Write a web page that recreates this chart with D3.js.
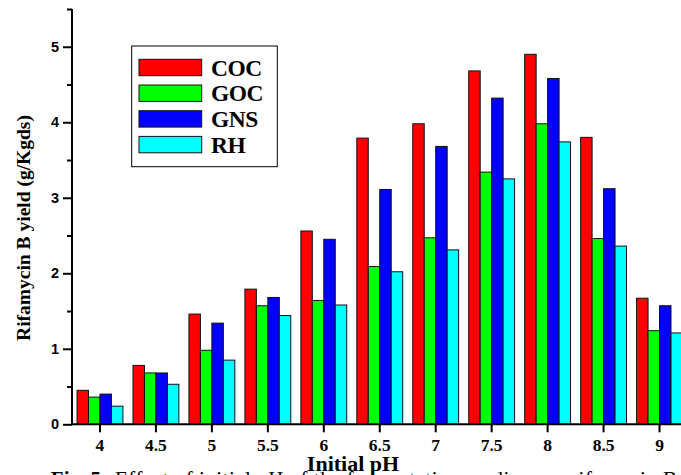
<!DOCTYPE html>
<html>
<head>
<meta charset="utf-8">
<script src="https://cdn.jsdelivr.net/npm/d3@7"></script>
<style>
  html, body { margin: 0; padding: 0; background: #fff; }
  svg { display: block; }
</style>
</head>
<body>
<svg id="chart" width="681" height="475"></svg>
<script>
// Initial pH levels (x categories)
const phLevels = ["4", "4.5", "5", "5.5", "6", "6.5", "7", "7.5", "8", "8.5", "9"];

// Substrate series
const seriesNames = ["COC", "GOC", "GNS", "RH"];
const seriesColors = ["#ff0000", "#00ff00", "#0000ff", "#00ffff"];

// Rifamycin B yield (g/Kgds) per substrate, one value per pH level
const cocYield = [0.45, 0.78, 1.46, 1.79, 2.56, 3.79, 3.98, 4.68, 4.90, 3.80, 1.67];
const gocYield = [0.36, 0.68, 0.98, 1.57, 1.64, 2.09, 2.47, 3.34, 3.98, 2.46, 1.24];
const gnsYield = [0.40, 0.68, 1.34, 1.68, 2.45, 3.11, 3.68, 4.32, 4.58, 3.12, 1.57];
const rhYield  = [0.24, 0.53, 0.85, 1.44, 1.58, 2.02, 2.31, 3.25, 3.74, 2.36, 1.21];

// Y axis ticks
const yMajorTicks = [0, 1, 2, 3, 4, 5];
const yMinorTicks = [0.5, 1.5, 2.5, 3.5, 4.5, 5.5];

const yieldsBySeries = [cocYield, gocYield, gnsYield, rhYield];

const svg = d3.select("#chart");
const serif = "'Liberation Serif', 'Times New Roman', serif";
const sans = "'Liberation Sans', Arial, sans-serif";

const plotLeft = 72, plotRight = 687.5, plotBottom = 424.3, plotTop = 9;

const x0 = d3.scaleBand()
  .domain(phLevels)
  .range([plotLeft, plotRight])
  .paddingInner(0.18)
  .paddingOuter(0.09);

const x1 = d3.scaleBand()
  .domain(seriesNames)
  .range([0, x0.bandwidth()]);

const y = d3.scaleLinear()
  .domain([0, 5.5])
  .range([plotBottom, plotTop]);

const color = d3.scaleOrdinal().domain(seriesNames).range(seriesColors);

// Bars
const rows = phLevels.map((ph, i) => ({
  ph,
  values: seriesNames.map((s, k) => ({ series: s, value: yieldsBySeries[k][i] }))
}));

const groups = svg.append("g")
  .selectAll("g")
  .data(rows)
  .join("g")
  .attr("transform", d => `translate(${x0(d.ph)},0)`);

groups.selectAll("rect")
  .data(d => d.values)
  .join("rect")
  .attr("x", d => x1(d.series))
  .attr("y", d => y(d.value))
  .attr("width", x1.bandwidth())
  .attr("height", d => y(0) - y(d.value))
  .attr("fill", d => color(d.series))
  .attr("stroke", "#111")
  .attr("stroke-width", 1);

// Y axis: major ticks with labels
const yAxis = svg.append("g")
  .attr("transform", `translate(${plotLeft},0)`)
  .call(d3.axisLeft(y).tickValues(yMajorTicks).tickSize(9).tickPadding(4).tickFormat(d3.format("d")));
yAxis.select(".domain").remove();
yAxis.selectAll(".tick line").attr("stroke", "#000").attr("stroke-width", 2);
yAxis.selectAll(".tick text")
  .attr("font-family", sans)
  .attr("font-weight", "bold")
  .attr("font-size", 14.5)
  .attr("fill", "#000");

// Y axis: minor ticks
const yMinor = svg.append("g")
  .attr("transform", `translate(${plotLeft},0)`)
  .call(d3.axisLeft(y).tickValues(yMinorTicks).tickSize(5).tickFormat(""));
yMinor.select(".domain").remove();
yMinor.selectAll(".tick line").attr("stroke", "#000").attr("stroke-width", 2);

// Y axis line
svg.append("line")
  .attr("x1", plotLeft).attr("x2", plotLeft)
  .attr("y1", y(5.5)).attr("y2", y(0) + 1)
  .attr("stroke", "#000").attr("stroke-width", 2);

// X axis
const xAxis = svg.append("g")
  .attr("transform", `translate(0,${plotBottom})`)
  .call(d3.axisBottom(x0).tickSize(8).tickPadding(6).tickSizeOuter(0));
xAxis.select(".domain").remove();
xAxis.selectAll(".tick line").attr("stroke", "#000").attr("stroke-width", 2);
xAxis.selectAll(".tick text")
  .attr("font-family", serif)
  .attr("font-weight", "bold")
  .attr("font-size", 17.5)
  .attr("fill", "#000");

svg.append("line")
  .attr("x1", plotLeft - 1).attr("x2", plotRight)
  .attr("y1", plotBottom).attr("y2", plotBottom)
  .attr("stroke", "#000").attr("stroke-width", 2);

// Axis titles
svg.append("text")
  .attr("transform", "translate(30,228) rotate(-90)")
  .attr("text-anchor", "middle")
  .attr("font-family", serif)
  .attr("font-weight", "bold")
  .attr("font-size", 19.5)
  .text("Rifamycin B  yield (g/Kgds)");

svg.append("text")
  .attr("x", 353)
  .attr("y", 471)
  .attr("text-anchor", "middle")
  .attr("font-family", serif)
  .attr("font-weight", "bold")
  .attr("font-size", 22)
  .text("Initial pH");

// Figure caption
svg.append("text")
  .attr("x", 108)
  .attr("y", 486)
  .attr("text-anchor", "end")
  .attr("font-family", serif)
  .attr("font-weight", "bold")
  .attr("font-size", 21)
  .text("Fig. 5:");
svg.append("text")
  .attr("x", 115)
  .attr("y", 486)
  .attr("font-family", serif)
  .attr("font-size", 21)
  .attr("textLength", 562)
  .attr("lengthAdjust", "spacing")
  .text("Effect of initial pH of the fermentation medium on rifamycin B");

// Legend
const legend = svg.append("g");
legend.append("rect")
  .attr("x", 131.7).attr("y", 46)
  .attr("width", 145.6).attr("height", 120.7)
  .attr("fill", "#fff")
  .attr("stroke", "#000")
  .attr("stroke-width", 1);

const legendItems = legend.selectAll("g.item")
  .data(seriesNames)
  .join("g")
  .attr("class", "item")
  .attr("transform", (d, i) => `translate(139,${59.3 + i * 25.7})`);

legendItems.append("rect")
  .attr("width", 62.7)
  .attr("height", 16.4)
  .attr("fill", d => color(d))
  .attr("stroke", "#111")
  .attr("stroke-width", 1);

legendItems.append("text")
  .attr("x", 72)
  .attr("y", 16.4)
  .attr("font-family", serif)
  .attr("font-weight", "bold")
  .attr("font-size", 23.5)
  .attr("letter-spacing", -0.5)
  .text(d => d);
</script>
</body>
</html>
